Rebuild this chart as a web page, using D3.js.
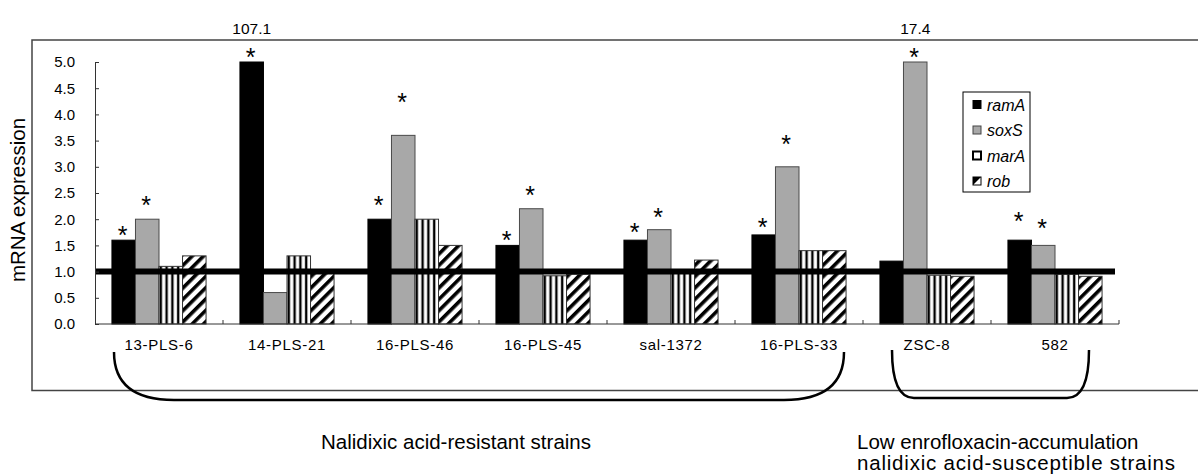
<!DOCTYPE html>
<html>
<head>
<meta charset="utf-8">
<script src="https://cdn.jsdelivr.net/npm/d3@7"></script>
<style>
  body { margin: 0; background: #fff; }
  text { font-family: "Liberation Sans", Arial, sans-serif; fill: #000; }
</style>
</head>
<body>
<div id="chart"></div>
<script>
// Data
var strains = ["13-PLS-6", "14-PLS-21", "16-PLS-46", "16-PLS-45", "sal-1372", "16-PLS-33", "ZSC-8", "582"];
var genes = ["ramA", "soxS", "marA", "rob"];

var ramA = [1.6, 107.1, 2.0, 1.5, 1.6, 1.7, 1.2, 1.6];
var soxS = [2.0, 0.6, 3.6, 2.2, 1.8, 3.0, 17.4, 1.5];
var marA = [1.1, 1.3, 2.0, 0.92, 1.0, 1.4, 0.93, 0.95];
var rob = [1.3, 1.0, 1.5, 0.95, 1.22, 1.4, 0.91, 0.91];

// height (in axis units) of the significance asterisks, null = none
var ramAStar = [1.8, 5.2, 2.37, 1.69, 1.85, 1.95, null, 2.06];
var soxSStar = [2.37, null, 4.34, 2.56, 2.14, 3.54, 5.2, 1.93];

var yTicks = [0, 0.5, 1, 1.5, 2, 2.5, 3, 3.5, 4, 4.5, 5];
var yMax = 5;
var baseline = 1.0;

var groupNames = ["Nalidixic acid-resistant strains"];
var groupNames2 = ["Low enrofloxacin-accumulation", "nalidixic acid-susceptible strains"];

var series = { ramA: ramA, soxS: soxS, marA: marA, rob: rob };
var stars = { ramA: ramAStar, soxS: soxSStar, marA: [], rob: [] };

var svgWidth = 1198;
var svgHeight = 474;

var svg = d3.select("#chart")
  .append("svg")
  .attr("width", svgWidth)
  .attr("height", svgHeight);

// patterns for marA / rob
var defs = svg.append("defs");
var vert = defs.append("pattern")
  .attr("id", "vstripe")
  .attr("patternUnits", "userSpaceOnUse")
  .attr("width", 5.8)
  .attr("height", 10);
vert.append("rect").attr("width", 5.8).attr("height", 10).attr("fill", "#fff");
vert.append("rect").attr("x", 0.8).attr("width", 2.4).attr("height", 10).attr("fill", "#000");

var diag = defs.append("pattern")
  .attr("id", "dstripe")
  .attr("patternUnits", "userSpaceOnUse")
  .attr("width", 8)
  .attr("height", 8)
  .attr("patternTransform", "rotate(45)");
diag.append("rect").attr("width", 8).attr("height", 8).attr("fill", "#fff");
diag.append("rect").attr("width", 3.6).attr("height", 8).attr("fill", "#000");

var fills = { ramA: "#000", soxS: "#a8a8a8", marA: "url(#vstripe)", rob: "url(#dstripe)" };
var strokes = { ramA: "#000", soxS: "#4a4a4a", marA: "#333", rob: "#333" };

// outer frame
svg.append("rect")
  .attr("x", 32)
  .attr("y", 40)
  .attr("width", 1200)
  .attr("height", 350.5)
  .attr("fill", "none")
  .attr("stroke", "#444")
  .attr("stroke-width", 1.5);

// scales
var x0 = d3.scaleBand()
  .domain(strains)
  .range([95, 1119]);

var x1 = d3.scaleBand()
  .domain(genes)
  .range([0, x0.bandwidth()])
  .paddingOuter(0.72);

var y = d3.scaleLinear()
  .domain([0, yMax])
  .range([324, 62]);

// bars
var groups = svg.selectAll(".strain")
  .data(strains)
  .enter()
  .append("g")
  .attr("class", "strain")
  .attr("transform", d => `translate(${x0(d)},0)`);

groups.selectAll("rect")
  .data((d, i) => genes.map(g => ({ gene: g, value: series[g][i], star: stars[g][i] })))
  .enter()
  .append("rect")
  .attr("x", d => x1(d.gene))
  .attr("y", d => y(Math.min(d.value, yMax)))
  .attr("width", x1.bandwidth())
  .attr("height", d => y(0) - y(Math.min(d.value, yMax)))
  .attr("fill", d => fills[d.gene])
  .attr("stroke", d => strokes[d.gene])
  .attr("stroke-width", 1);

// asterisks
groups.selectAll(".star")
  .data((d, i) => genes.map(g => ({ gene: g, star: stars[g][i] })).filter(d => d.star != null))
  .enter()
  .append("text")
  .attr("class", "star")
  .attr("x", d => x1(d.gene) + x1.bandwidth() / 2 - 1)
  .attr("y", d => y(d.star) + 14)
  .attr("text-anchor", "middle")
  .attr("font-size", 25)
  .text("*");

// off-scale values written over the frame
groups.selectAll(".over")
  .data((d, i) => genes.map(g => ({ gene: g, value: series[g][i] })).filter(d => d.value > yMax))
  .enter()
  .append("text")
  .attr("class", "over")
  .attr("x", d => x1(d.gene) + x1.bandwidth() / 2)
  .attr("y", 34)
  .attr("text-anchor", "middle")
  .attr("font-size", 15.5)
  .text(d => d.value.toFixed(1));

// thick reference line at 1.0
svg.append("line")
  .attr("x1", 95)
  .attr("x2", 1115)
  .attr("y1", y(baseline))
  .attr("y2", y(baseline))
  .attr("stroke", "#000")
  .attr("stroke-width", 6);

// y axis
var leftAxis = d3.axisLeft(y)
  .tickValues(yTicks)
  .tickSizeInner(-4)
  .tickSizeOuter(0)
  .tickPadding(20)
  .tickFormat(d3.format(".1f"));

var yAxisG = svg.append("g")
  .attr("transform", "translate(95,0)")
  .call(leftAxis);
yAxisG.selectAll("text").attr("font-size", 15).style("font-family", "Liberation Sans, Arial, sans-serif");
yAxisG.selectAll("path, line").attr("stroke", "#333");

// x axis: ticks between strains
var bottomAxis = d3.axisBottom(x0)
  .tickSize(0)
  .tickPadding(15);

var xAxisG = svg.append("g")
  .attr("transform", `translate(0, ${y(0)})`)
  .call(bottomAxis);
xAxisG.select(".domain").attr("stroke", "#333").attr("d", "M95,0H1119");
xAxisG.selectAll("text")
  .attr("font-size", 15)
  .attr("letter-spacing", 0.7)
  .style("font-family", "Liberation Sans, Arial, sans-serif");

xAxisG.selectAll(".sep")
  .data(strains.slice(1).concat(["end"]))
  .enter()
  .append("line")
  .attr("class", "sep")
  .attr("x1", (d, i) => x0(strains[i]) + x0.bandwidth())
  .attr("x2", (d, i) => x0(strains[i]) + x0.bandwidth())
  .attr("y1", 0)
  .attr("y2", -4)
  .attr("stroke", "#333");

// axis title
svg.append("text")
  .attr("transform", "translate(25,200) rotate(-90)")
  .attr("text-anchor", "middle")
  .attr("font-size", 20.5)
  .text("mRNA expression");

// legend
var legend = svg.append("g").attr("transform", "translate(963,92)");
legend.append("rect")
  .attr("width", 67)
  .attr("height", 100)
  .attr("fill", "#fff")
  .attr("stroke", "#000")
  .attr("stroke-width", 1);

var items = legend.selectAll(".item")
  .data(genes)
  .enter()
  .append("g")
  .attr("class", "item")
  .attr("transform", (d, i) => `translate(10, ${13 + i * 25.5})`);

items.append("rect")
  .attr("x", 0)
  .attr("y", -4.5)
  .attr("width", 8)
  .attr("height", 8)
  .attr("fill", d => d == "ramA" ? "#000" : d == "soxS" ? "#a8a8a8" : "#fff")
  .attr("stroke", d => d == "soxS" ? "#444" : "#000")
  .attr("stroke-width", d => d == "marA" ? 2 : 1);

items.filter(d => d == "rob")
  .append("path")
  .attr("d", "M0,-4.5L8,-4.5L0,3.5Z")
  .attr("fill", "#000");

items.append("text")
  .attr("x", 14)
  .attr("y", 5.5)
  .attr("font-size", 16)
  .attr("font-style", "italic")
  .text(d => d);

// group brackets
function bracket(xl, xr, top, bottom, r) {
  return `M${xl},${top} Q${xl},${bottom} ${xl + r},${bottom} L${xr - r},${bottom} Q${xr},${bottom} ${xr},${top}`;
}

svg.append("path")
  .attr("d", bracket(114, 844, 352, 400, 60))
  .attr("fill", "none")
  .attr("stroke", "#000")
  .attr("stroke-width", 2.5);

svg.append("path")
  .attr("d", bracket(892, 1089, 350, 398, 22))
  .attr("fill", "none")
  .attr("stroke", "#000")
  .attr("stroke-width", 2.5);

svg.append("text")
  .attr("x", 456)
  .attr("y", 449)
  .attr("text-anchor", "middle")
  .attr("font-size", 20.5)
  .text(groupNames[0]);

svg.selectAll(".g2")
  .data(groupNames2)
  .enter()
  .append("text")
  .attr("class", "g2")
  .attr("x", 857)
  .attr("y", (d, i) => 449 + i * 21)
  .attr("font-size", 20.5)
  .attr("textLength", (d, i) => i == 0 ? null : 318)
  .attr("lengthAdjust", "spacing")
  .text(d => d);
</script>
</body>
</html>
